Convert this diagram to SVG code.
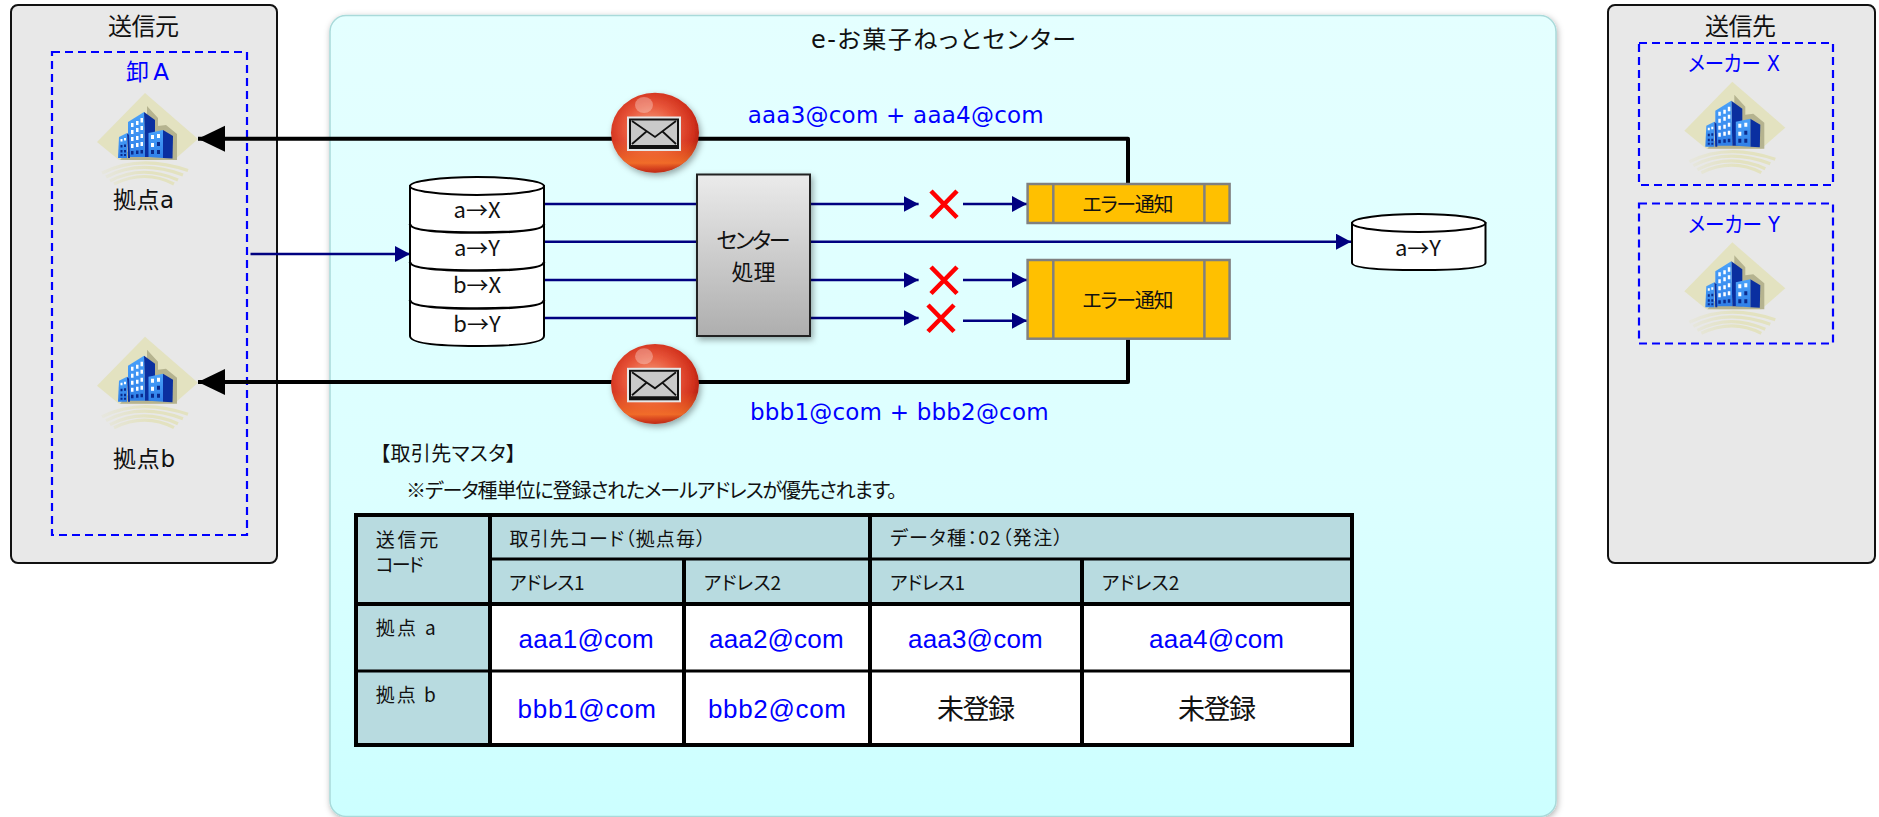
<svg xmlns="http://www.w3.org/2000/svg" width="1879" height="817" viewBox="0 0 1879 817">
<style>
text{font-family:"Noto Sans CJK JP","Noto Sans",sans-serif;fill:#111;font-feature-settings:"palt"}
.lat{font-family:"DejaVu Sans","Noto Sans CJK JP",sans-serif}
.ari{font-family:"Liberation Sans","Noto Sans CJK JP",sans-serif;font-size:26px}
.blue{fill:#0000ff}
.t24{font-size:24px}.t23{font-size:23px}.t22{font-size:22px}.t20{font-size:20px}.t19{font-size:19px}.t26{font-size:27px}
.grp{fill:#e8e8e8;stroke:#111;stroke-width:2}
.dash{fill:none;stroke:#0000ff;stroke-width:2.2;stroke-dasharray:8 5}
.cyl{fill:#fff;stroke:#000;stroke-width:2}
.band{fill:none;stroke:#000;stroke-width:2.6}
.nv{fill:none;stroke:#000080;stroke-width:2.4}
.nva{fill:none;stroke:#000080;stroke-width:2.4;marker-end:url(#navy)}
.blk{fill:none;stroke:#000;stroke-width:4;stroke-linejoin:round}
.err{fill:#ffc000;stroke:#808080;stroke-width:2.5}
.x{fill:none;stroke:#ff0000;stroke-width:4.6}
.hd{fill:#b8dbe0}.bd{fill:#fff}
.tl{stroke:#000;stroke-width:4;fill:none}.tl3{stroke:#000;stroke-width:3;fill:none}
.sw{fill:none;stroke:url(#swg);stroke-width:3.2}
</style>
<defs>
<linearGradient id="pg" x1="0" y1="0" x2="0" y2="1"><stop offset="0" stop-color="#e4ffff"/><stop offset="0.6" stop-color="#dcffff"/><stop offset="1" stop-color="#ccffff"/></linearGradient>
<linearGradient id="bx" x1="0" y1="0" x2="0" y2="1"><stop offset="0" stop-color="#ebebeb"/><stop offset="1" stop-color="#aeaeae"/></linearGradient>
<radialGradient id="ball" cx="0.45" cy="0.45" r="0.6"><stop offset="0" stop-color="#f7a583"/><stop offset="0.5" stop-color="#e8563a"/><stop offset="0.82" stop-color="#d1301c"/><stop offset="1" stop-color="#a81c0e"/></radialGradient>
<linearGradient id="ballb" x1="0" y1="0" x2="0" y2="1"><stop offset="0.6" stop-color="#f57a2e" stop-opacity="0"/><stop offset="0.88" stop-color="#f5752a" stop-opacity="0.85"/><stop offset="1" stop-color="#c8381a" stop-opacity="0.3"/></linearGradient>
<linearGradient id="tw" x1="0" y1="0" x2="0" y2="1"><stop offset="0" stop-color="#4aa2fa"/><stop offset="1" stop-color="#2f7fe8"/></linearGradient>
<linearGradient id="swg" gradientUnits="userSpaceOnUse" x1="100" y1="0" x2="150" y2="0"><stop offset="0" stop-color="#e3e2c0" stop-opacity="0.2"/><stop offset="1" stop-color="#e3e2c0"/></linearGradient>
<filter id="sh" x="-10%" y="-10%" width="125%" height="125%"><feDropShadow dx="2" dy="3" stdDeviation="3" flood-color="#000" flood-opacity="0.35"/></filter>
<filter id="shp" x="-2%" y="-2%" width="104%" height="104%"><feDropShadow dx="1" dy="2" stdDeviation="3" flood-color="#000" flood-opacity="0.3"/></filter>
<marker id="navy" markerUnits="userSpaceOnUse" markerWidth="16" markerHeight="18" refX="15" refY="8" orient="auto"><path d="M0,0L15,8L0,16Z" fill="#000080"/></marker>
<marker id="black" markerUnits="userSpaceOnUse" markerWidth="28" markerHeight="28" refX="27" refY="13" orient="auto"><path d="M0,0L27,13L0,26Z" fill="#000"/></marker>
<g id="bld">
<path d="M145,93L198,139L174,160L119,160L97,142Z" fill="#e3e2c0"/>
<path class="sw" d="M102,173Q140,154 188,170.500"/>
<path class="sw" d="M106,177Q140,159 183,175"/>
<path class="sw" d="M110,181Q142,164 178,180"/>
<path class="sw" d="M114,184Q145,169 174,184"/>
<path d="M147,106L158,118L158,126L166,125L177,134L177,160L120,160L147,130Z" fill="#b5b38f"/>
<path d="M144,112L155,120L155,157L145,157Z" fill="#0a2fa0"/>
<path d="M128,122L144,112L145,157L128,157Z" fill="url(#tw)"/>
<path d="M119,137L127,133L127,158L118,158Z" fill="url(#tw)"/>
<path d="M127,133L128,158L130,158L129,135Z" fill="#0a2fa0"/>
<path d="M163,130L173,136L172.500,158.500L163,158Z" fill="#0a2fa0"/>
<path d="M148.500,133L163,130L163,158L148.500,157Z" fill="url(#tw)"/>
<path d="M131,123h2.500v4h-2.500zM136,121h2.500v4h-2.500zM140.500,118h2.500v4.500h-2.500zM131,130h2.500v4h-2.500zM136,128h2.500v4h-2.500zM140.500,126h2.500v4h-2.500zM131,137h2.500v4h-2.500zM136,136h2.500v4h-2.500zM140.500,134h2.500v4h-2.500zM131,144h2.500v4h-2.500zM136,143h2.500v4h-2.500zM140.500,142h2.500v4h-2.500zM151,135h3v4h-3zM157,134h3v4h-3zM151,143h3v4h-3zM120.500,139h2v2.500h-2zM124,138h2v2.500h-2z" fill="#fff"/>
<path d="M157,142h3v4h-3zM151,150h3v4h-3zM157,150h3v4h-3zM131,151h2.500v3.500h-2.500zM136,150.500h2.500v3.500h-2.500zM140.500,150h2.500v3.500h-2.500zM120.500,145h2v2.500h-2zM124,144.500h2v2.500h-2zM120.500,150h2v2.500h-2zM124,150h2v2.500h-2zM120.500,154h2v2h-2zM124,154h2v2h-2z" fill="#0a2a8c"/>
</g>
<g id="mail">
<ellipse cx="655" cy="132.700" rx="44" ry="40" fill="url(#ball)" filter="url(#sh)"/>
<ellipse cx="655" cy="132.700" rx="44" ry="40" fill="url(#ballb)"/>
<ellipse cx="644" cy="105" rx="9" ry="8" fill="#fff" opacity="0.3"/>
<rect x="627" y="116.500" width="54" height="34.500" fill="#e6e6e6"/>
<rect x="629" y="118.500" width="50" height="30.500" fill="#111"/>
<path d="M631,120.500H677V145H631Z" fill="#c9c9c9"/>
<path d="M632,121L655,137L676,121M632,144L647,131M676,144L662,131" fill="none" stroke="#111" stroke-width="1.800"/>
</g>
</defs>

<g id="sender"><rect class="grp" x="11" y="5" width="266" height="558" rx="7"/><text class="t24" x="108" y="35" textLength="71">送信元</text></g>
<g id="wholesaler"><rect class="dash" x="52" y="52" width="195" height="483"/><text class="lat t23 blue" x="126" y="80" textLength="43">卸 A</text></g>
<g id="site-a"><use href="#bld"/><text class="lat t23" x="113" y="208" textLength="61">拠点a</text></g>
<g id="site-b"><use href="#bld" y="243.700"/><text class="lat t23" x="113" y="467" textLength="62">拠点b</text></g>

<g id="receiver"><rect class="grp" x="1608" y="5" width="267" height="558" rx="7"/><text class="t24" x="1705" y="35" textLength="71">送信先</text></g>
<g id="maker-x"><rect class="dash" x="1639" y="43" width="194" height="142"/><text class="lat t22 blue" x="1688" y="71" textLength="92" lengthAdjust="spacingAndGlyphs">メーカー X</text><use href="#bld" x="1587.300" y="-11.300"/></g>
<g id="maker-y"><rect class="dash" x="1639" y="203.500" width="194" height="140"/><text class="lat t22 blue" x="1688" y="232" textLength="92" lengthAdjust="spacingAndGlyphs">メーカー Y</text><use href="#bld" x="1587.300" y="149.300"/></g>

<g id="center"><rect x="330" y="15.500" width="1226" height="801" rx="16" fill="url(#pg)" stroke="#a9dada" stroke-width="1.500" filter="url(#shp)"/><text class="lat t24" x="811" y="48" textLength="265">e-お菓子ねっとセンター</text></g>

<g id="connectors">
<path class="blk" d="M1128,184V138.700H198" marker-end="url(#black)"/>
<path class="blk" d="M1128,338.700V382H198" marker-end="url(#black)"/>
<path class="nva" d="M250.500,254H410"/>
<path class="nv" d="M544,204H697M544,241.700H697M544,280H697M544,318H697"/>
<path class="nva" d="M810,204H918.600"/>
<path class="nva" d="M810,280H918.600"/>
<path class="nva" d="M810,318H918.600"/>
<path class="nva" d="M810,241.700H1351"/>
<path class="nva" d="M963,204H1027"/>
<path class="nva" d="M963,280H1027"/>
<path class="nva" d="M963,320.700H1027"/>
</g>

<g id="mail-top"><use href="#mail"/></g>
<g id="mail-bottom"><use href="#mail" y="251.300"/></g>
<text class="lat t23 blue" x="747.700" y="123" textLength="296">aaa3@com + aaa4@com</text>
<text class="lat t23 blue" x="750" y="420" textLength="298.600">bbb1@com + bbb2@com</text>

<g id="queue">
<path class="cyl" d="M410,186V336Q410,346 477,346Q544,346 544,336V186Z"/>
<ellipse class="cyl" cx="477" cy="186" rx="67" ry="9"/>
<path class="band" d="M410,224Q410,232.500 477,232.500Q544,232.500 544,224"/>
<path class="band" d="M410,262Q410,270.500 477,270.500Q544,270.500 544,262"/>
<path class="band" d="M410,300Q410,308.500 477,308.500Q544,308.500 544,300"/>
<text class="t22" x="477" y="218" text-anchor="middle" style="font-feature-settings:normal">a→X</text>
<text class="t22" x="477" y="256" text-anchor="middle" style="font-feature-settings:normal">a→Y</text>
<text class="t22" x="477" y="293" text-anchor="middle" style="font-feature-settings:normal">b→X</text>
<text class="t22" x="477" y="332" text-anchor="middle" style="font-feature-settings:normal">b→Y</text>
</g>

<g id="process"><rect x="697" y="174.500" width="113" height="161.500" fill="url(#bx)" stroke="#222" stroke-width="2" filter="url(#sh)"/><text class="t22" x="753.500" y="248" text-anchor="middle" textLength="74">センター</text><text class="t22" x="753.500" y="280" text-anchor="middle">処理</text></g>

<g id="error-1"><rect class="err" x="1027.600" y="184" width="202" height="39"/><path class="err" d="M1053.300,184V223M1204.400,184V223"/><text class="t20" x="1128" y="211.500" text-anchor="middle" textLength="91">エラー通知</text></g>
<g id="error-2"><rect class="err" x="1027.600" y="260" width="202" height="78.700"/><path class="err" d="M1053.300,260V338.700M1204.400,260V338.700"/><text class="t20" x="1128" y="307.500" text-anchor="middle" textLength="91">エラー通知</text></g>
<g id="cross-1"><path class="x" d="M931,191L957,217.500M957,191L931,217.500"/></g>
<g id="cross-2"><path class="x" d="M931,267L957,293.500M957,267L931,293.500"/></g>
<g id="cross-3"><path class="x" d="M928,305L954,331.500M954,305L928,331.500"/></g>

<g id="output"><path class="cyl" d="M1352,223V262.700Q1352,270 1418.700,270Q1485.500,270 1485.500,262.700V223Z"/><ellipse class="cyl" cx="1418.700" cy="223" rx="66.700" ry="9"/><text class="t22" x="1418" y="255.500" text-anchor="middle" style="font-feature-settings:normal">a→Y</text></g>

<g id="master-title"><text class="t20" x="380" y="460.500" textLength="136">【取引先マスタ】</text><text class="t20" x="406" y="497.500" textLength="491">※データ種単位に登録されたメールアドレスが優先されます。</text></g>

<g id="master-table">
<rect class="hd" x="356" y="515" width="996" height="89"/>
<rect class="hd" x="356" y="604" width="134" height="141"/>
<rect class="bd" x="490" y="604" width="862" height="141"/>
<path class="tl" d="M356,515H1352V745H356ZM490,515V745M870,515V745M684,559V745M1082,559V745M356,604H1352"/>
<path class="tl3" d="M490,559H1352M356,671H1352"/>
<text class="t19" x="375.700" y="546.500" textLength="62.500">送信元</text>
<text class="t19" x="375.700" y="571.500" textLength="48">コード</text>
<text class="t19" x="509.600" y="545.500" textLength="196">取引先コード（拠点毎）</text>
<text class="t19" x="890" y="545" textLength="173">データ種：02（発注）</text>
<text class="t19" x="509" y="590" textLength="75.500">アドレス1</text>
<text class="t19" x="703.600" y="590" textLength="77.500">アドレス2</text>
<text class="t19" x="890" y="590" textLength="75">アドレス1</text>
<text class="t19" x="1101.700" y="590" textLength="77.500">アドレス2</text>
<text class="t19" x="375.700" y="635" textLength="60">拠点 a</text>
<text class="t19" x="375.700" y="701.500" textLength="60">拠点 b</text>
<text class="ari blue" x="518.600" y="648" textLength="135">aaa1@com</text>
<text class="ari blue" x="709" y="648" textLength="134.600">aaa2@com</text>
<text class="ari blue" x="908" y="648" textLength="134.700">aaa3@com</text>
<text class="ari blue" x="1149" y="648" textLength="135">aaa4@com</text>
<text class="ari blue" x="517.500" y="718" textLength="138.500">bbb1@com</text>
<text class="ari blue" x="708" y="718" textLength="138">bbb2@com</text>
<text class="t26" x="937" y="719" textLength="78">未登録</text>
<text class="t26" x="1178" y="719" textLength="78">未登録</text>
</g>
</svg>
